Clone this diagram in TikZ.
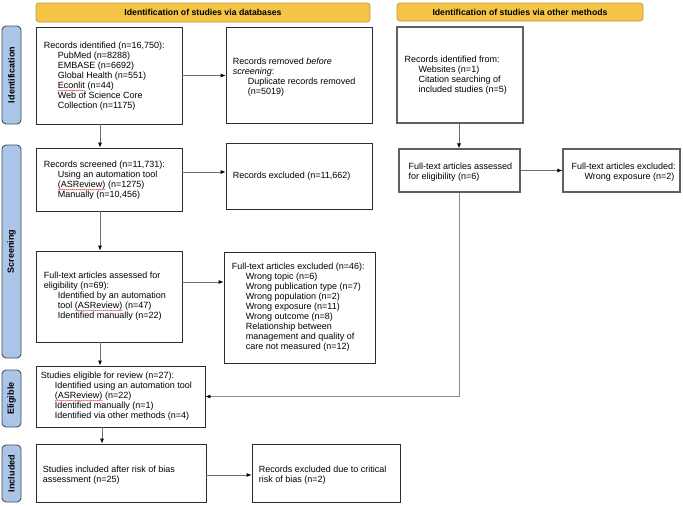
\documentclass[tikz,border=0pt]{standalone}
\usepackage{fontspec}
\setmainfont{Liberation Sans}
\usetikzlibrary{arrows.meta,decorations.pathmorphing}
\definecolor{hdrfill}{RGB}{244,196,70}
\definecolor{hdrline}{RGB}{196,156,62}
\definecolor{sidefill}{RGB}{170,197,232}
\definecolor{sideline}{RGB}{70,80,95}
\definecolor{boxline}{RGB}{45,45,45}
\definecolor{boxline2}{RGB}{95,95,95}
\definecolor{conn}{RGB}{110,110,110}
\definecolor{sqred}{RGB}{225,60,60}
\newcommand\spellsq[1]{\tikz[baseline=(sqw.base),x=1pt,y=1pt]{\node[inner sep=0pt,outer sep=0pt,anchor=base](sqw){#1};\draw[sqred,line width=0.3pt,decorate,decoration={snake,amplitude=0.4pt,segment length=2pt}] ([yshift=-1.8pt]sqw.base west) -- ([yshift=-1.8pt]sqw.base east);}}
\begin{document}
\begin{tikzpicture}[x=1pt,y=-1pt,
 hdr/.style={draw=hdrline, fill=hdrfill, rounded corners=3pt, line width=0.8pt, font=\bfseries\fontsize{8.7}{10}\selectfont, inner sep=0pt},
 side/.style={draw=sideline, fill=sidefill, rounded corners=4pt, line width=0.9pt, rotate=90, font=\bfseries\fontsize{9}{10}\selectfont, minimum height=19pt, inner sep=0pt},
 box/.style={draw=boxline, line width=0.8pt, inner sep=0pt},
 box2/.style={draw=boxline2, line width=1.1pt, inner sep=0pt},
 txt/.style={anchor=west, align=left, inner sep=0pt, font=\fontsize{9}{10}\selectfont},
 arr/.style={draw=conn, line width=0.8pt, -{Latex[length=5pt,width=4pt,color=black]}},
]
\useasboundingbox (0,0) rectangle (683,506);
\fill[white] (0,0) rectangle (683,506);

% headers
\node[hdr, minimum width=334pt, minimum height=19pt] (h1) at (203,12.5) {Identification of studies via databases};
\node[hdr, minimum width=246pt, minimum height=18pt] (h2) at (520,12) {Identification of studies via other methods};

% side labels
\node[side, minimum width=98pt] (s1) at (11.5,75) {Identification};
\node[side, minimum width=213pt] (s2) at (11.5,251.5) {Screening};
\node[side, minimum width=57pt] (s3) at (11.5,398.5) {Eligible};
\node[side, minimum width=57pt] (s4) at (11.5,473.5) {Included};

% boxes
\node[box, minimum width=146pt, minimum height=97pt] (id) at (109,75.5) {};
\node[txt] (idt) at ([xshift=8pt,yshift=-1pt]id.west) {Records identified (n=16,750):\\
\hspace*{14pt}PubMed (n=8288)\\
\hspace*{14pt}EMBASE (n=6692)\\
\hspace*{14pt}Global Health (n=551)\\
\hspace*{14pt}\spellsq{Econlit} (n=44)\\
\hspace*{14pt}Web of Science Core\\
\hspace*{14pt}Collection (n=1175)};

\node[box, minimum width=146pt, minimum height=96pt] (rem) at (299,75) {};
\node[txt] (remt) at ([xshift=7pt,yshift=-2pt]rem.west) {Records removed \textit{before}\\
\textit{screening}:\\
\hspace*{15pt}Duplicate records removed\\
\hspace*{15pt}(n=5019)};

\node[box2, minimum width=126pt, minimum height=96pt] (oth) at (460,75) {};
\node[txt] (otht) at ([xshift=8pt]oth.west) {Records identified from:\\
\hspace*{14pt}Websites (n=1)\\
\hspace*{14pt}Citation searching of\\
\hspace*{14pt}included studies (n=5)};

\node[box, minimum width=146pt, minimum height=63pt] (scr) at (109,179.5) {};
\node[txt] (scrt) at ([xshift=8pt,yshift=-1pt]scr.west) {Records screened (n=11,731):\\
\hspace*{14pt}Using an automation tool\\
\hspace*{14pt}\spellsq{(ASReview)} (n=1275)\\
\hspace*{14pt}Manually (n=10,456)};

\node[box, minimum width=146pt, minimum height=66pt] (exc) at (299,176) {};
\node[txt] (exct) at ([xshift=7pt]exc.west) {Records excluded (n=11,662)};

\node[box2, minimum width=121pt, minimum height=43pt] (ft2) at (459.5,170.5) {};
\node[txt] (ft2t) at ([xshift=10pt,yshift=-2pt]ft2.west) {Full-text articles assessed\\
for eligibility (n=6)};

\node[box2, minimum width=117pt, minimum height=43pt] (fte2) at (621.5,170.5) {};
\node[txt] (fte2t) at ([xshift=9pt,yshift=-2pt]fte2.west) {Full-text articles excluded:\\
\hspace*{13pt}Wrong exposure (n=2)};

\node[box, minimum width=146pt, minimum height=91pt] (ft) at (109,296.5) {};
\node[txt] (ftt) at ([xshift=8pt]ft.west) {Full-text articles assessed for\\
eligibility (n=69):\\
\hspace*{14pt}Identified by an automation\\
\hspace*{14pt}tool \spellsq{(ASReview)} (n=47)\\
\hspace*{14pt}Identified manually (n=22)};

\node[box, minimum width=151pt, minimum height=111pt] (fte) at (299.5,307.5) {};
\node[txt] (ftet) at ([xshift=8pt]fte.west) {Full-text articles excluded (n=46):\\
\hspace*{14pt}Wrong topic (n=6)\\
\hspace*{14pt}Wrong publication type (n=7)\\
\hspace*{14pt}Wrong population (n=2)\\
\hspace*{14pt}Wrong exposure (n=11)\\
\hspace*{14pt}Wrong outcome (n=8)\\
\hspace*{14pt}Relationship between\\
\hspace*{14pt}management and quality of\\
\hspace*{14pt}care not measured (n=12)};

\node[box, minimum width=169pt, minimum height=61pt] (elig) at (120.5,396.5) {};
\node[txt] (eligt) at ([xshift=5pt]elig.west) {Studies eligible for review (n=27):\\
\hspace*{14pt}Identified using an automation tool\\
\hspace*{14pt}\spellsq{(ASReview)} (n=22)\\
\hspace*{14pt}Identified manually (n=1)\\
\hspace*{14pt}Identified via other methods (n=4)};

\node[box, minimum width=170pt, minimum height=58pt] (inc) at (121,473) {};
\node[txt] (inct) at ([xshift=7pt,yshift=-2pt]inc.west) {Studies included after risk of bias\\
assessment (n=25)};

\node[box, minimum width=148pt, minimum height=58pt] (crit) at (326,473) {};
\node[txt] (critt) at ([xshift=7pt,yshift=-2pt]crit.west) {Records excluded due to critical\\
risk of bias (n=2)};

% helper coordinates
\coordinate (ax) at (100,0);
\coordinate (ax2) at (102,0);
\coordinate (ox) at (459,0);
\coordinate (cy2) at (0,172);
\coordinate (cy3) at (0,282);
\coordinate (cy5) at (0,475);

% connectors
\draw[arr] (id.south -| ax) -- (scr.north -| ax);
\draw[arr] (id.east) -- (id.east -| rem.west);
\draw[arr] (scr.east |- cy2) -- (exc.west |- cy2);
\draw[arr] (scr.south -| ax) -- (ft.north -| ax);
\draw[arr] (ft.east |- cy3) -- (fte.west |- cy3);
\draw[arr] (ft.south -| ax) -- (elig.north -| ax);
\draw[arr] (elig.south -| ax2) -- (inc.north -| ax2);
\draw[arr] (inc.east |- cy5) -- (crit.west |- cy5);
\draw[arr] (oth.south -| ox) -- (ft2.north -| ox);
\draw[arr] (ft2.east) -- (fte2.west);
\draw[arr, draw=conn!80] (ft2.south -| ox) |- (elig.east);
\end{tikzpicture}
\end{document}
